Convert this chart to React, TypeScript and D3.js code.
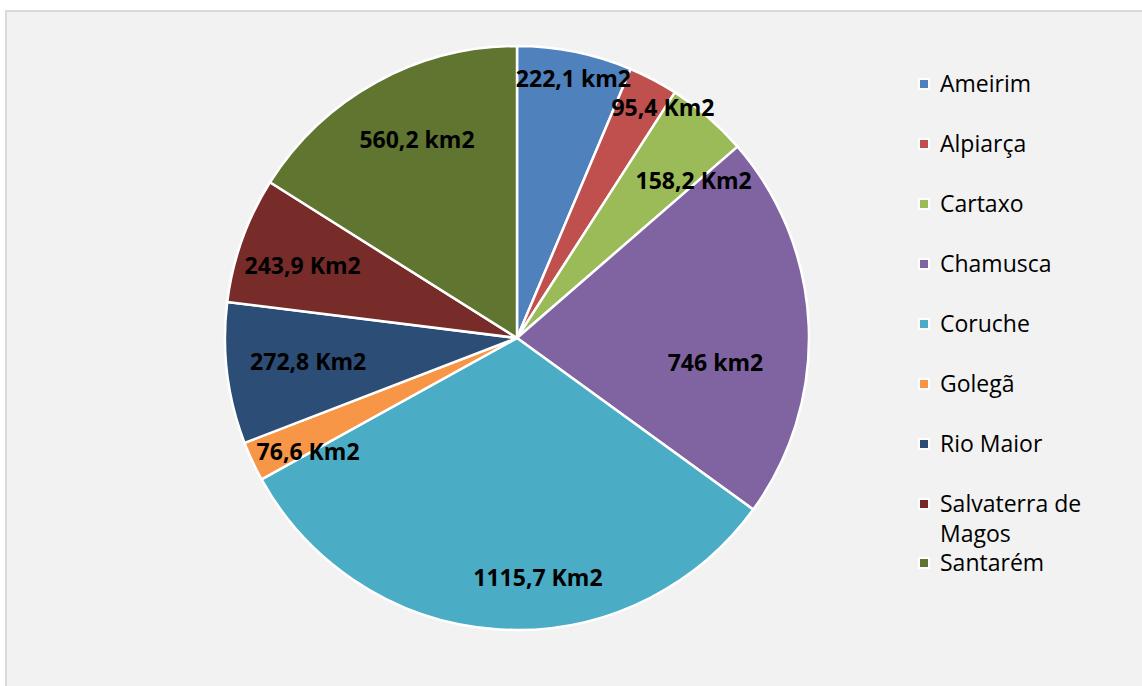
import * as d3 from "d3";
import React, { useRef, useEffect } from "react";

const municipios = ["Ameirim", "Alpiarça", "Cartaxo", "Chamusca", "Coruche", "Golegã", "Rio Maior", "Salvaterra de Magos", "Santarém"];
const areas = [222.1, 95.4, 158.2, 746, 1115.7, 76.6, 272.8, 243.9, 560.2];
const rotulos = ["222,1 km2", "95,4 Km2", "158,2 Km2", "746 km2", "1115,7 Km2", "76,6 Km2", "272,8 Km2", "243,9 Km2", "560,2 km2"];
const cores = ["#4F81BD", "#C0504D", "#9BBB59", "#8064A2", "#4BACC6", "#F79646", "#2C4D75", "#772C2A", "#5F7530"];

// label placement tweaks (radius fraction, angle shift in degrees), like Excel best fit
const labelTweak: [number, number][] = [
  [0.91, 0.8], [0.935, 4.5], [0.81, 7.4], [0.685, 9.7], [0.825, -8.5],
  [0.815, -3.6], [0.72, 0.4], [0.775, -1], [0.76, 2.1],
];

const W = 1142, H = 686;

export default function App() {
  const ref = useRef<SVGSVGElement>(null);

  useEffect(() => {
    const svg = d3.select(ref.current);
    svg.selectAll("*").remove();

    // background + border
    svg.append("rect")
      .attr("x", 6).attr("y", 11)
      .attr("width", W).attr("height", H)
      .attr("fill", "#f2f2f2")
      .attr("stroke", "#d9d9d9")
      .attr("stroke-width", 2);

    const cx = 517, cy = 338, r = 292;
    const g = svg.append("g").attr("transform", `translate(${cx},${cy})`);

    const pie = d3.pie<number>().sort(null).value(d => d);
    const arcs = pie(areas);
    const arc = d3.arc<d3.PieArcDatum<number>>().innerRadius(0).outerRadius(r);

    g.selectAll("path.slice")
      .data(arcs)
      .enter()
      .append("path")
      .attr("class", "slice")
      .attr("d", arc)
      .attr("fill", (d, i) => cores[i])
      .attr("stroke", "#fff")
      .attr("stroke-width", 2.5)
      .attr("stroke-linejoin", "round");

    // data labels
    g.selectAll("text.lbl")
      .data(arcs)
      .enter()
      .append("text")
      .attr("class", "lbl")
      .attr("x", (d, i) => {
        const a = (d.startAngle + d.endAngle) / 2 + labelTweak[i][1] * Math.PI / 180;
        return Math.sin(a) * r * labelTweak[i][0];
      })
      .attr("y", (d, i) => {
        const a = (d.startAngle + d.endAngle) / 2 + labelTweak[i][1] * Math.PI / 180;
        return -Math.cos(a) * r * labelTweak[i][0];
      })
      .attr("dy", "0.36em")
      .attr("text-anchor", "middle")
      .attr("font-family", "Open Sans")
      .attr("font-weight", "bold")
      .attr("font-size", "23px")
      .attr("fill", "#000")
      .text((d, i) => rotulos[i]);

    // legend
    const rowY = d3.scalePoint<string>().domain(municipios).range([84, 564]);
    const leg = svg.append("g");
    const items = leg.selectAll("g.item")
      .data(municipios)
      .enter()
      .append("g")
      .attr("class", "item")
      .attr("transform", d => `translate(0,${d === "Santarém" ? rowY(d)! - 1 : rowY(d)})`);

    items.append("rect")
      .attr("x", 919).attr("y", -5)
      .attr("width", 10).attr("height", 10)
      .attr("fill", (d, i) => cores[i])
      .attr("stroke", "#fff")
      .attr("stroke-width", 2);

    items.append("text")
      .attr("x", 940)
      .attr("font-family", "Open Sans")
      .attr("font-size", "23px")
      .attr("fill", "#000")
      .each(function (d) {
        const t = d3.select(this);
        const lines = d === "Salvaterra de Magos" ? ["Salvaterra de", "Magos"] : [d];
        lines.forEach((l, k) => {
          t.append("tspan").attr("x", 940).attr("y", k * 30).attr("dy", "0.36em").text(l);
        });
      });
  }, []);

  return (
    <svg ref={ref} width={W} height={H}
      style={{ position: "absolute", left: 0, top: 0, background: "#fff" }} />
  );
}
